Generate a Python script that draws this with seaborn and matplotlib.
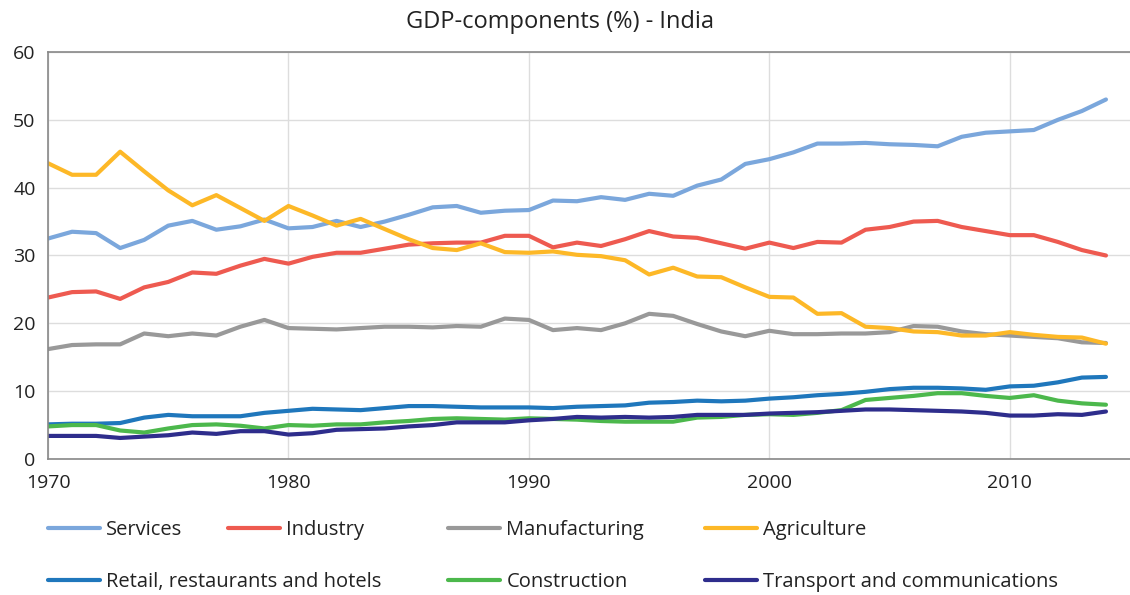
import matplotlib
matplotlib.use("Agg")
import matplotlib.pyplot as plt
from matplotlib.lines import Line2D
import pandas as pd
import seaborn as sns

years = list(range(1970, 2015))

services = [32.5, 33.5, 33.3, 31.1, 32.3, 34.4, 35.1, 33.8, 34.3, 35.3,
            34.0, 34.2, 35.1, 34.2, 35.0, 36.0, 37.1, 37.3, 36.3, 36.6,
            36.7, 38.1, 38.0, 38.6, 38.2, 39.1, 38.8, 40.3, 41.2, 43.5,
            44.2, 45.2, 46.5, 46.5, 46.6, 46.4, 46.3, 46.1, 47.5, 48.1,
            48.3, 48.5, 50.0, 51.3, 53.0]
industry = [23.8, 24.6, 24.7, 23.6, 25.3, 26.1, 27.5, 27.3, 28.5, 29.5,
            28.8, 29.8, 30.4, 30.4, 31.0, 31.6, 31.8, 31.9, 31.9, 32.9,
            32.9, 31.2, 31.9, 31.4, 32.4, 33.6, 32.8, 32.6, 31.8, 31.0,
            31.9, 31.1, 32.0, 31.9, 33.8, 34.2, 35.0, 35.1, 34.2, 33.6,
            33.0, 33.0, 32.0, 30.8, 30.0]
manufacturing = [16.2, 16.8, 16.9, 16.9, 18.5, 18.1, 18.5, 18.2, 19.5, 20.5,
                 19.3, 19.2, 19.1, 19.3, 19.5, 19.5, 19.4, 19.6, 19.5, 20.7,
                 20.5, 19.0, 19.3, 19.0, 20.0, 21.4, 21.1, 19.9, 18.8, 18.1,
                 18.9, 18.4, 18.4, 18.5, 18.5, 18.7, 19.6, 19.5, 18.8, 18.4,
                 18.2, 18.0, 17.8, 17.2, 17.1]
agriculture = [43.6, 41.9, 41.9, 45.3, 42.4, 39.6, 37.4, 38.9, 37.0, 35.1,
               37.3, 35.9, 34.4, 35.4, 33.9, 32.4, 31.1, 30.8, 31.8, 30.5,
               30.4, 30.6, 30.1, 29.9, 29.3, 27.2, 28.2, 26.9, 26.8, 25.3,
               23.9, 23.8, 21.4, 21.5, 19.5, 19.3, 18.8, 18.7, 18.2, 18.2,
               18.7, 18.3, 18.0, 17.9, 17.0]
retail = [5.1, 5.2, 5.2, 5.3, 6.1, 6.5, 6.3, 6.3, 6.3, 6.8,
          7.1, 7.4, 7.3, 7.2, 7.5, 7.8, 7.8, 7.7, 7.6, 7.6,
          7.6, 7.5, 7.7, 7.8, 7.9, 8.3, 8.4, 8.6, 8.5, 8.6,
          8.9, 9.1, 9.4, 9.6, 9.9, 10.3, 10.5, 10.5, 10.4, 10.2,
          10.7, 10.8, 11.3, 12.0, 12.1]
construction = [4.8, 5.0, 5.0, 4.2, 3.9, 4.5, 5.0, 5.1, 4.9, 4.5,
                5.0, 4.9, 5.1, 5.1, 5.4, 5.6, 5.9, 6.0, 5.9, 5.8,
                6.0, 5.9, 5.8, 5.6, 5.5, 5.5, 5.5, 6.1, 6.2, 6.5,
                6.6, 6.5, 6.8, 7.2, 8.7, 9.0, 9.3, 9.7, 9.7, 9.3,
                9.0, 9.4, 8.6, 8.2, 8.0]
transport = [3.4, 3.4, 3.4, 3.1, 3.3, 3.5, 3.9, 3.7, 4.1, 4.1,
             3.6, 3.8, 4.3, 4.4, 4.5, 4.8, 5.0, 5.4, 5.4, 5.4,
             5.7, 5.9, 6.2, 6.1, 6.2, 6.1, 6.2, 6.5, 6.5, 6.5,
             6.7, 6.8, 6.9, 7.1, 7.3, 7.3, 7.2, 7.1, 7.0, 6.8,
             6.4, 6.4, 6.6, 6.5, 7.0]

series = {
    "Services": services,
    "Industry": industry,
    "Manufacturing": manufacturing,
    "Agriculture": agriculture,
    "Retail, restaurants and hotels": retail,
    "Construction": construction,
    "Transport and communications": transport,
}
colors = ["#7ba7dc", "#ee5a50", "#999999", "#fdb827",
          "#1f77bc", "#4cb84c", "#2e2d8c"]
palette = dict(zip(series.keys(), colors))

df = pd.DataFrame(series, index=years).reset_index(names="year")
long_df = df.melt(id_vars="year", var_name="component", value_name="value")

sns.set_style("white")
plt.rcParams["font.family"] = ["Open Sans", "DejaVu Sans"]

fig = plt.figure(figsize=(11.3, 5.95), dpi=100)
ax = fig.add_axes([0.0425, 0.2286, 0.9575, 0.684])

sns.lineplot(data=long_df, x="year", y="value", hue="component",
             palette=palette, linewidth=3, legend=False, ax=ax)

ax.set_xlim(1970, 2015)
ax.set_ylim(0, 60)
ax.set_xticks(range(1970, 2011, 10))
ax.set_yticks(range(0, 61, 10))
ax.grid(True, color="#dddddd", linewidth=1)
ax.set_axisbelow(True)
ax.tick_params(axis="both", labelsize=14, colors="#222222", length=0)
ax.tick_params(axis="x", pad=11)
ax.tick_params(axis="y", pad=9)
ax.set_xlabel("")
ax.set_ylabel("")
for side in ["left", "bottom", "top"]:
    ax.spines[side].set_color("#888888")
    ax.spines[side].set_linewidth(1.2)
ax.spines["right"].set_visible(False)

fig.suptitle("GDP-components (%) - India", fontsize=17, color="#222222",
             x=0.496, y=1 - 22 / 595, va="center")

# legend entries placed like the original two-row layout
legend_pos = [(48, 530), (228, 530), (448, 530), (705, 530),
              (48, 582), (448, 582), (705, 582)]
for (name, col), (px, py) in zip(palette.items(), legend_pos):
    handle = Line2D([], [], color=col, linewidth=3)
    fig.legend(handles=[handle], labels=[name], loc="center left",
               bbox_to_anchor=(px / 1130, 1 - py / 595), frameon=False,
               borderpad=0, borderaxespad=0, handlelength=2.6,
               handletextpad=0.3, fontsize=14.5, labelcolor="#222222")

fig.savefig("out.png", dpi=100)
